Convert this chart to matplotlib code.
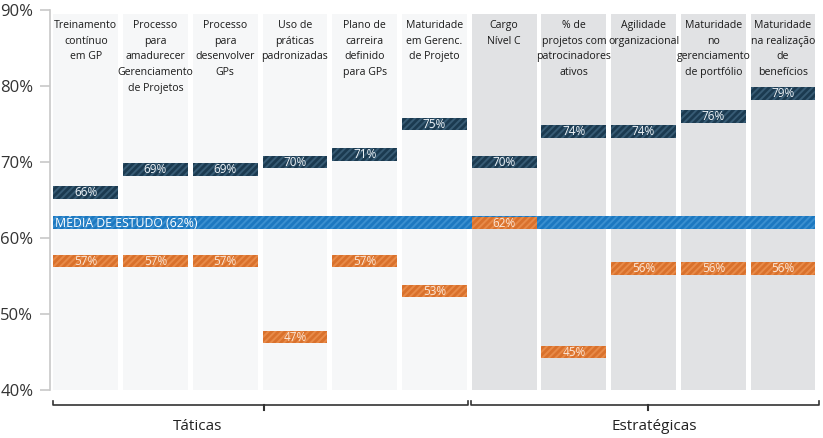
import matplotlib
matplotlib.use('Agg')
import matplotlib.pyplot as plt
import matplotlib.transforms as mtransforms
import numpy as np

plt.rcParams['font.family'] = ['Open Sans', 'DejaVu Sans']
plt.rcParams['hatch.linewidth'] = 1.4

# data
categorias = ['Treinamento\ncontínuo\nem GP',
              'Processo\npara\namadurecer\nGerenciamento\nde Projetos',
              'Processo\npara\ndesenvolver\nGPs',
              'Uso de\npráticas\npadronizadas',
              'Plano de\ncarreira\ndefinido\npara GPs',
              'Maturidade\nem Gerenc.\nde Projeto',
              'Cargo\nNível C',
              '% de\nprojetos com\npatrocinadores\nativos',
              'Agilidade\norganizacional',
              'Maturidade\nno\ngerenciamento\nde portfólio',
              'Maturidade\nna realização\nde\nbenefícios']
com_pratica = [66, 69, 69, 70, 71, 75, 70, 74, 74, 76, 79]
sem_pratica = [57, 57, 57, 47, 57, 53, 62, 45, 56, 56, 56]
media = 62
grupos = ['Táticas', 'Estratégicas']
n_taticas = 6
yticks = [40, 50, 60, 70, 80, 90]

fig = plt.figure(figsize=(8.23, 4.38), dpi=100)
ax = fig.add_axes([50/823, 48/438, 770/823, 380/438])

x = np.arange(len(categorias))
w = 0.93
col_top = 89.5

# fundos das colunas
for i in x:
    cor = '#f6f7f8' if i < n_taticas else '#e1e2e4'
    ax.bar(i, col_top - 40, bottom=40, width=w, color=cor, zorder=0)

# linha da media
ax.bar((x[0] - w/2 + x[-1] + w/2) / 2, 1.7, bottom=media - 0.85,
       width=(x[-1] - x[0] + w), color='#1c78c0', edgecolor='#3a8fd0',
       hatch='/////', linewidth=0, zorder=2)
ax.text(x[0] - w/2 + 0.03, media, 'MÉDIA DE ESTUDO (%d%%)' % media,
        color='white', fontsize=8.8, va='center', ha='left', zorder=5)

h = 1.65
ax.bar(x, h, bottom=np.array(com_pratica) - h/2, width=w, color='#1b3a50',
       edgecolor='#375b74', hatch='/////', linewidth=0, zorder=3)
ax.bar(x, h, bottom=np.array(sem_pratica) - h/2, width=w, color='#d9712c',
       edgecolor='#e88a48', hatch='/////', linewidth=0, zorder=3)
for i in x:
    ax.text(i, com_pratica[i] - 0.05, '%d%%' % com_pratica[i], color='#eef3f7',
            fontsize=8.5, ha='center', va='center', zorder=5)
    ax.text(i, sem_pratica[i] - 0.05, '%d%%' % sem_pratica[i], color='#fbe6d6',
            fontsize=8.5, ha='center', va='center', zorder=5)
    ax.text(i, 88.7, categorias[i], ha='center', va='top', fontsize=7.6,
            color='#1a1a1a', linespacing=1.6, zorder=5)

ax.set_xlim(-0.513, 10.53)
ax.set_ylim(40, 90)
ax.set_yticks(yticks)
ax.set_yticklabels(['%d%%' % v for v in yticks], fontsize=12, color='#333333')
ax.set_xticks([])
for s in ['top', 'right', 'bottom']:
    ax.spines[s].set_visible(False)
ax.spines['left'].set_color('#c8c8c8')
ax.spines['left'].set_linewidth(1.2)
ax.tick_params(axis='y', length=7, color='#c8c8c8', width=1.2, pad=5)

# chaves dos grupos
trans = mtransforms.blended_transform_factory(ax.transData, ax.transAxes)
yb = -0.04
limites = [(x[0] - w/2, n_taticas - 0.5 - 0.02),
           (n_taticas - 0.5 + 0.02, x[-1] + w/2 + 0.05)]
meio = [2.56, 8.07]
pos_txt = [1.61, 8.15]
for (a, b), m, t, g in zip(limites, meio, pos_txt, grupos):
    ax.plot([a, a, b, b], [yb + 0.012, yb, yb, yb + 0.012], color='#333333',
            lw=1.2, transform=trans, clip_on=False)
    ax.plot([m, m], [yb, yb - 0.012], color='#333333', lw=1.5,
            transform=trans, clip_on=False)
    ax.text(t, yb - 0.055, g, ha='center', va='center', fontsize=11,
            color='#222222', transform=trans)

fig.savefig('out.png', dpi=100)
